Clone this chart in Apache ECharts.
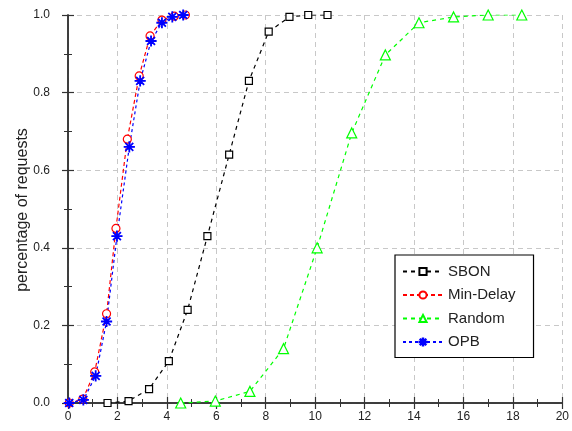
<!DOCTYPE html>
<html><head><meta charset="utf-8">
<script src="https://cdn.jsdelivr.net/npm/echarts@6/dist/echarts.min.js"></script>
<style>html,body{margin:0;padding:0;background:#fff}#c{width:572px;height:431px}</style>
</head><body><div id="c"></div>
<script>
var sbonX = [1.6, 2.45, 3.28, 4.08, 4.84, 5.64, 6.52, 7.32, 8.12, 8.96, 9.72, 10.5];
var sbonY = [0.0, 0.005, 0.036, 0.108, 0.24, 0.43, 0.64, 0.83, 0.957, 0.995, 1.0, 1.0];
var minDelayX = [0.05, 0.6, 1.08, 1.56, 1.94, 2.4, 2.88, 3.32, 3.8, 4.3, 4.75];
var minDelayY = [0.0, 0.01, 0.08, 0.23, 0.45, 0.68, 0.843, 0.946, 0.987, 0.997, 1.0];
var randomX = [4.56, 5.96, 7.36, 8.72, 10.08, 11.48, 12.84, 14.2, 15.6, 17.0, 18.36];
var randomY = [0.0, 0.005, 0.03, 0.14, 0.40, 0.696, 0.897, 0.98, 0.995, 1.0, 1.0];
var opbX = [0.05, 0.62, 1.12, 1.56, 1.98, 2.48, 2.92, 3.36, 3.8, 4.22, 4.66];
var opbY = [0.0, 0.008, 0.07, 0.21, 0.43, 0.66, 0.83, 0.933, 0.98, 0.995, 1.0];
var seriesNames = ['SBON', 'Min-Delay', 'Random', 'OPB'];
var xTicks = [0, 2, 4, 6, 8, 10, 12, 14, 16, 18, 20];
var yTicks = [0, 0.2, 0.4, 0.6, 0.8, 1.0];
var yTitle = 'percentage of requests';

function pairs(xs, ys){ return xs.map(function(x,i){return [x, ys[i]];}); }
var asterisk = 'path://M-0.6,-10L0.6,-10L0.6,10L-0.6,10Z M-10,-0.6L10,-0.6L10,0.6L-10,0.6Z M-6.7,-7.5L7.5,6.7L6.7,7.5L-7.5,-6.7Z M6.7,-7.5L7.5,-6.7L-6.7,7.5L-7.5,6.7Z';

var chart = echarts.init(document.getElementById('c'));
var axisLine = {show:true, lineStyle:{color:'#333', width:1.5}};
var tickIn = {show:true, inside:true, length:6, lineStyle:{color:'#333', width:1.2}};
var minorIn = {show:true, splitNumber:2, length:4, lineStyle:{color:'#333', width:1}};
var FF = 'Liberation Sans';
var lbl = {color:'#222', fontSize:12, fontFamily:FF};
function mkSeries(name, xs, ys, color, symbol, size, dash){
  return {name:name, type:'line', data:pairs(xs, ys), symbol:symbol, symbolSize:size,
    showAllSymbol:true, xAxisIndex:0, yAxisIndex:0,
    lineStyle:{color:color, width:1.2, type:dash},
    itemStyle:{color: symbol===asterisk ? color : '#fff', borderColor:color, borderWidth:1.2},
    emphasis:{disabled:true}, animation:false};
}
chart.setOption({
  animation:false,
  grid:{left:68, right:5, top:15, bottom:28},
  graphic:[{type:'text', x:23, y:210, rotation:Math.PI/2,
    style:{text:yTitle, fill:'#222', font:'16px "Liberation Sans"', textAlign:'center', textVerticalAlign:'middle'}}],
  xAxis:[{type:'value', min:0, max:20, interval:2, position:'bottom',
    axisLine:axisLine, axisTick:tickIn, minorTick:minorIn,
    axisLabel:Object.assign({margin:8, formatter:function(v){return xTicks.indexOf(v)>=0?String(v):'';}}, lbl),
    splitLine:{show:true, lineStyle:{color:'#c8c8c8', type:[5,4], width:1}}},
   {type:'value', min:0, max:20, interval:2, position:'top',
    axisLine:axisLine, axisTick:tickIn, minorTick:minorIn, axisLabel:{show:false}, splitLine:{show:false}}],
  yAxis:[{type:'value', min:0, max:1, interval:0.2, position:'left',
    axisLine:axisLine, axisTick:tickIn, minorTick:minorIn,
    axisLabel:Object.assign({margin:18, formatter:function(v){return v.toFixed(1);}}, lbl),
    splitLine:{show:true, lineStyle:{color:'#c8c8c8', type:[5,4], width:1}}},
   {type:'value', min:0, max:1, interval:0.2, position:'right',
    axisLine:axisLine, axisTick:tickIn, minorTick:minorIn, axisLabel:{show:false}, splitLine:{show:false}}],
  legend:{orient:'vertical', left:395, top:255, data:seriesNames,
    backgroundColor:'#fff', borderColor:'#000', borderWidth:1.2, borderRadius:0,
    padding:[9,18,8,7], itemWidth:40, itemHeight:9, itemGap:8.5,
    textStyle:{fontSize:15, color:'#222', fontFamily:FF}},
  series:[
    mkSeries(seriesNames[0], sbonX, sbonY, '#000000', 'rect', 7, [4,4]),
    mkSeries(seriesNames[1], minDelayX, minDelayY, '#ff0000', 'circle', 8, [4,3]),
    mkSeries(seriesNames[2], randomX, randomY, '#00ff00', 'triangle', 10, [4,4]),
    mkSeries(seriesNames[3], opbX, opbY, '#0000ff', asterisk, 10, [3,3])
  ]
});
</script></body></html>
